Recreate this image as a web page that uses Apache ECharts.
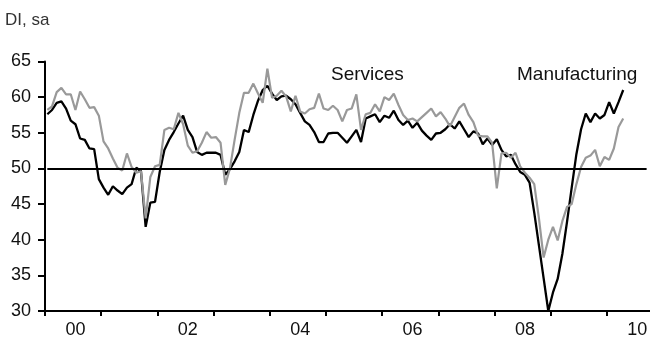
<!DOCTYPE html>
<html>
<head>
<meta charset="utf-8">
<script src="https://cdn.jsdelivr.net/npm/echarts@6/dist/echarts.min.js"></script>
<style>
  html, body { margin: 0; padding: 0; background: #fff; }
  #chart { width: 650px; height: 337px; }
</style>
</head>
<body>
<div id="chart"></div>
<script>
// Monthly categories, Jan 2000 – Dec 2010
const startYear = 2000;
const endYear = 2010;
const months = [];
for (let y = startYear; y <= endYear; y++) {
  for (let m = 1; m <= 12; m++) months.push(y + '-' + String(m).padStart(2, '0'));
}

// Diffusion index readings, seasonally adjusted (Jan 2000 – Apr 2010)
const manufacturing = [
  57.6, 58.2, 59.2, 59.4, 58.4, 56.7, 56.2, 54.2, 54.0, 52.8, 52.7, 48.5,
  47.3, 46.3, 47.5, 46.9, 46.4, 47.3, 47.8, 50.1, 49.6, 41.8, 45.2, 45.3,
  49.5, 52.6, 54.0, 55.1, 56.3, 57.4, 55.4, 54.4, 52.3, 51.9, 52.2, 52.2,
  52.2, 51.9, 49.1, 49.9, 51.0, 52.3, 55.4, 55.1, 57.5, 59.5, 61.0, 61.6,
  60.5, 59.6, 60.1, 60.2, 59.7, 59.0, 57.8, 56.6, 56.1, 55.1, 53.7, 53.7,
  54.9, 55.0, 55.0, 54.3, 53.6, 54.5, 55.4, 53.7, 57.0, 57.3, 57.6, 56.5,
  57.4, 57.1, 58.1, 56.8, 56.1, 56.7, 55.7, 56.4, 55.3, 54.6, 54.0, 54.9,
  55.0, 55.5, 56.2, 55.6, 56.6, 55.5, 54.4, 55.2, 54.9, 53.4, 54.2, 53.3,
  54.1, 52.6, 51.7, 51.9, 50.6, 49.5, 49.1, 48.0, 43.8, 39.2, 34.6, 30.0,
  32.6, 34.5, 38.0, 42.5, 47.3, 52.0, 55.5, 57.7, 56.5, 57.7, 57.0, 57.5,
  59.3, 57.7, 59.3, 61.0
];

const services = [
  58.2, 58.7, 60.7, 61.3, 60.4, 60.4, 58.2, 60.8, 59.7, 58.5, 58.6, 57.4,
  53.8, 52.8, 51.4, 50.1, 49.7, 52.1, 50.2, 49.4, 49.6, 43.0, 48.8, 50.3,
  50.5, 55.4, 55.7, 55.5, 57.8, 56.2, 53.2, 52.2, 52.4, 53.6, 55.1, 54.3,
  54.4, 53.6, 47.7, 50.0, 54.0, 57.8, 60.6, 60.6, 61.9, 60.5, 59.2, 64.0,
  59.9, 60.2, 60.9, 60.1, 58.0, 60.2, 58.0, 57.7, 58.3, 58.5, 60.5, 58.4,
  58.2, 58.8, 58.2, 56.6, 58.2, 58.4, 60.4, 55.4, 57.6, 57.8, 59.0, 58.0,
  60.0, 59.6, 60.5, 58.9, 57.5, 56.8, 57.0, 56.6, 57.2, 57.8, 58.4, 57.3,
  57.9, 57.0, 55.9, 57.2, 58.5, 59.1, 57.5, 56.5, 54.6, 54.5, 54.5, 53.6,
  47.2, 52.1, 52.2, 51.5, 52.2, 50.3, 49.4, 48.7, 47.8, 43.0, 37.5, 40.0,
  41.8, 39.9, 42.6, 44.6, 45.0, 47.8, 50.2, 51.5, 51.8, 52.6, 50.3, 51.6,
  51.2, 52.8, 55.8, 57.0
];

// Value axis range and step
const yMin = 30, yMax = 65, yStep = 5;
const referenceLevel = 50;

const FONT = '"Liberation Sans", Arial, sans-serif';
const chart = echarts.init(document.getElementById('chart'), null, { renderer: 'canvas' });

chart.setOption({
  animation: false,
  backgroundColor: '#ffffff',
  grid: { left: 45, right: -13, top: 61.5, bottom: 26, containLabel: false, outerBoundsMode: 'none' },
  xAxis: {
    type: 'category',
    data: months,
    boundaryGap: true,
    axisLine: { show: true, lineStyle: { color: '#000', width: 2 } },
    axisTick: {
      show: true,
      length: 5,
      interval: (i) => i % 12 === 0,
      lineStyle: { color: '#000', width: 2 }
    },
    axisLabel: {
      interval: (i) => i % 24 === 6,
      formatter: (v) => v.slice(2, 4),
      fontFamily: FONT,
      fontSize: 18,
      color: '#111',
      margin: 10
    },
    splitLine: { show: false }
  },
  yAxis: {
    type: 'value',
    min: yMin,
    max: yMax,
    interval: yStep,
    axisLine: { show: true, lineStyle: { color: '#000', width: 2 } },
    axisTick: { show: true, length: 7, lineStyle: { color: '#000', width: 2 } },
    axisLabel: { fontFamily: FONT, fontSize: 18, color: '#111', margin: 14 },
    splitLine: { show: false }
  },
  series: [
    {
      name: 'Manufacturing',
      type: 'line',
      data: manufacturing,
      symbol: 'none',
      lineStyle: { color: '#000', width: 2.3 },
      z: 2,
      markLine: {
        silent: true,
        symbol: 'none',
        label: { show: false },
        lineStyle: { color: '#000', width: 2, type: 'solid' },
        data: [[{ coord: [months[0], referenceLevel] }, { coord: [months[128], referenceLevel] }]]
      }
    },
    {
      name: 'Services',
      type: 'line',
      data: services,
      symbol: 'none',
      lineStyle: { color: '#999', width: 2.2 },
      z: 3
    }
  ],
  graphic: [
    { type: 'text', left: 5, top: 12, style: { text: 'DI, sa', fontFamily: FONT, fontSize: 17, fill: '#333' } },
    { type: 'text', left: 331, top: 65, style: { text: 'Services', fontFamily: FONT, fontSize: 19, fill: '#111' } },
    { type: 'text', left: 517, top: 65, style: { text: 'Manufacturing', fontFamily: FONT, fontSize: 19, fill: '#111' } }
  ]
});
</script>
</body>
</html>
